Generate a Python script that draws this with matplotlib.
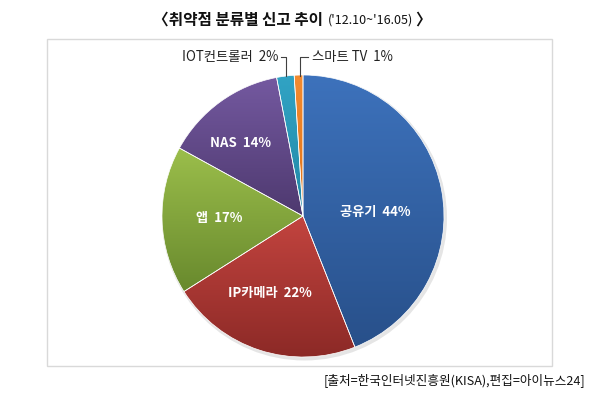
import numpy as np
import matplotlib
matplotlib.use('Agg')
import matplotlib.pyplot as plt
from matplotlib.colors import to_rgb
from matplotlib.patches import Rectangle, Circle

plt.rcParams['font.family'] = ['Noto Sans CJK KR', 'DejaVu Sans']

# 데이터
categories = ['공유기', 'IP카메라', '앱', 'NAS', 'IOT컨트롤러', '스마트 TV']
values = [44, 22, 17, 14, 2, 1]

# 조각별 그라데이션 (위, 아래)
top_colors = ['#3d72bc', '#c3443f', '#9bbe4b', '#7459a0', '#31a3c4', '#f38b30']
bottom_colors = ['#28508a', '#8b2926', '#68892d', '#4e396f', '#2288a6', '#de7218']

W, H = 600, 400
CX, CY, R = 303, 216, 141

fig = plt.figure(figsize=(6, 4), dpi=100)
ax = fig.add_axes([0, 0, 1, 1])
ax.set_xlim(0, W)
ax.set_ylim(0, H)

# 외곽 프레임
ax.add_patch(Rectangle((47, H - 366), 505, 327, facecolor='white',
                       edgecolor='#d9d9d9', linewidth=1.0, zorder=0))

# 은은한 그림자
ax.add_patch(Circle((CX + 1.5, H - CY - 2), R + 1.5, facecolor='#000000',
                    alpha=0.10, edgecolor='none', zorder=0.5))

wedges, _ = ax.pie(values, center=(CX, H - CY), radius=R, startangle=90,
                   counterclock=False,
                   wedgeprops=dict(edgecolor='white', linewidth=0.5))

for w, c_top, c_bot in zip(wedges, top_colors, bottom_colors):
    verts = w.get_path().vertices
    x0, y0 = verts.min(axis=0)
    x1, y1 = verts.max(axis=0)
    t = np.linspace(0, 1, 128)[:, None]
    grad = np.array(to_rgb(c_bot)) * (1 - t) + np.array(to_rgb(c_top)) * t
    img = ax.imshow(grad[:, None, :], extent=(x0, x1, y0, y1), origin='lower',
                    aspect='auto', interpolation='bilinear', zorder=1)
    img.set_clip_path(w)
    w.set_facecolor('none')
    w.set_zorder(2)

ax.set_xlim(0, W)
ax.set_ylim(0, H)
ax.set_aspect('auto')
ax.axis('off')

# 조각 안쪽 라벨
inner = {
    '공유기': (375, 212),
    'IP카메라': (270, 293),
    '앱': (219, 218),
    'NAS': (240, 143),
}
for cat, val in zip(categories, values):
    if cat in inner:
        x, y = inner[cat]
        ax.text(x, H - y, f'{cat}  {val}%', color='white', fontsize=9.5,
                fontweight='bold', ha='center', va='center', zorder=3)

# 바깥 라벨 + 지시선
lc = '#404040'
ax.text(278, H - 57, f'{categories[4]}  {values[4]}%', fontsize=9.6,
        ha='right', va='center', color='#222222', zorder=3)
ax.plot([281, 286, 286], [H - 57, H - 57, H - 76], color=lc, lw=0.8, zorder=3)
ax.text(312, H - 57, f'{categories[5]}  {values[5]}%', fontsize=9.6,
        ha='left', va='center', color='#222222', zorder=3)
ax.plot([308, 300, 300], [H - 57, H - 57, H - 76], color=lc, lw=0.8, zorder=3)

# 제목 (조각들을 차례로 이어 붙임)
renderer = fig.canvas.get_renderer()
inv = ax.transData.inverted()
x = 153
parts = [('〈취약점 분류별 신고 추이', 11.3, 'bold', 0),
         ("('12.10~'16.05)", 9.0, 'normal', 5),
         ('〉', 11.3, 'bold', 2)]
for txt, fs, fw, gap in parts:
    x += gap
    t = ax.text(x, H - 20, txt, fontsize=fs, fontweight=fw, ha='left',
                va='center', color='#111111')
    bb = t.get_window_extent(renderer)
    x = inv.transform((bb.x1, bb.y0))[0]

# 출처
ax.text(585, H - 380, '[출처=한국인터넷진흥원(KISA),편집=아이뉴스24]', fontsize=9.1,
        ha='right', va='center', color='#111111')

fig.savefig('out.png', dpi=100, facecolor='white')
